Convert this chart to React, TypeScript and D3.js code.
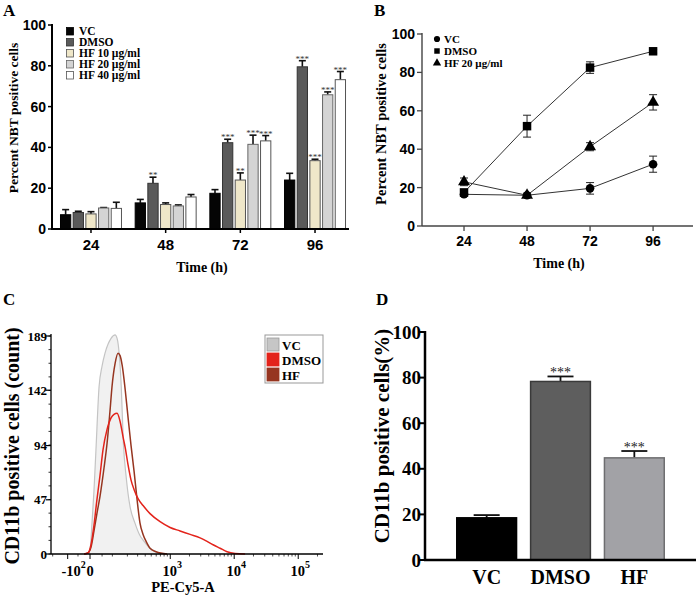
import React from 'react';
import * as d3 from 'd3';

const serif = "'Liberation Serif','Times New Roman',Times,serif";
const sans = "'Liberation Sans',Arial,Helvetica,sans-serif";

// ---------- Panel A data ----------
const timeGroups = ['24', '48', '72', '96'];
const seriesA = ['VC', 'DMSO', 'HF 10 µg/ml', 'HF 20 µg/ml', 'HF 40 µg/ml'];
const aVC = [7, 12.8, 17.5, 24];
const aVCerr = [2.5, 1.7, 1.8, 3.3];
const aDMSO = [8.1, 22.4, 42.3, 79.5];
const aDMSOerr = [0.6, 3, 1.7, 3];
const aHF10 = [7.4, 12, 24, 33.5];
const aHF10err = [1.1, 0.8, 3.5, 0.7];
const aHF20 = [10.3, 11.3, 41.5, 65.8];
const aHF20err = [0.2, 0.5, 4.5, 1.4];
const aHF40 = [10.1, 15.7, 43.2, 73.2];
const aHF40err = [3, 1.2, 2.6, 4];
const aVCsig = ['', '', '', ''];
const aDMSOsig = ['', '**', '***', '***'];
const aHF10sig = ['', '', '**', '***'];
const aHF20sig = ['', '', '***', '***'];
const aHF40sig = ['', '', '***', '***'];
const aTicks = [0, 20, 40, 60, 80, 100];

// ---------- Panel B data ----------
const bTimes = [24, 48, 72, 96];
const seriesB = ['VC', 'DMSO', 'HF 20 µg/ml'];
const bVC = [16.5, 16, 19.6, 32.2];
const bVCerr = [1, 0.8, 3, 4.2];
const bDMSO = [17.5, 52, 82.5, 91];
const bDMSOerr = [1.5, 5.7, 3, 1];
const bHF20 = [23, 16, 41.3, 64.4];
const bHF20err = [2, 0.8, 2.1, 4];
const bTicks = [0, 20, 40, 60, 80, 100];

// ---------- Panel C data (fluorescence, count) ----------
const cVcX = [-24, -8, 0, 8, 16, 24, 37, 50, 63, 78, 93, 115, 127, 140, 154, 169, 189, 206, 223, 270, 328, 369, 478, 575, 743];
const cVcY = [0, 1, 4, 27, 55, 90, 145, 163, 174, 182, 187, 190, 187, 174, 145, 96, 68, 52, 41, 27, 16, 12, 5, 2, 0];
const cHfX = [-24, -8, 4, 16, 28, 41, 59, 73, 88, 98, 115, 133, 146, 161, 183, 206, 232, 261, 294, 328, 369, 413, 478, 597, 890];
const cHfY = [0, 1, 6, 20, 35, 50, 75, 96, 125, 145, 165, 174, 172, 163, 142, 118, 94, 72, 47, 27, 17, 11, 5, 2, 0];
const cDmsoX = [-24, -8, 4, 16, 28, 41, 54, 73, 93, 109, 127, 146, 169, 183, 206, 232, 261, 305, 369, 478, 691, 994, 1425, 2045, 2933, 3771, 4680, 6018, 7744, 10330, 14800];
const cDmsoY = [0, 1, 8, 25, 47, 68, 90, 108, 118, 121, 122, 115, 100, 92, 77, 64, 56, 48, 42, 35, 28, 23, 20, 17, 14, 11, 8, 5, 2, 0.5, 0];
const cSeries = ['VC', 'DMSO', 'HF'];
const cYTicks = [0, 47, 94, 142, 189];
const cXTicks = [-100, 0, 1000, 10000, 100000];

// ---------- Panel D data ----------
const dCats = ['VC', 'DMSO', 'HF'];
const dVals = [18.5, 78.3, 44.8];
const dErr = [1.2, 2.2, 3];
const dSig = ['', '***', '***'];
const dTicks = [0, 20, 40, 60, 80, 100];

export default function App() {
  // ===== Panel A =====
  const yA = d3.scaleLinear().domain([0, 100]).range([229, 25]);
  const xA = d3.scaleBand<string>().domain(timeGroups).range([52, 354]).paddingInner(0.17).paddingOuter(0.107);
  const xAin = d3.scaleBand<string>().domain(seriesA).range([0, xA.bandwidth()]).paddingInner(0.11);
  const aVals = [aVC, aDMSO, aHF10, aHF20, aHF40];
  const aErrs = [aVCerr, aDMSOerr, aHF10err, aHF20err, aHF40err];
  const aSigs = [aVCsig, aDMSOsig, aHF10sig, aHF20sig, aHF40sig];
  const aFill = ['#050505', '#5a5a5a', '#efe7c9', '#d4d4d4', '#ffffff'];
  const aStroke = ['#000', '#333', '#555', '#666', '#555'];

  // ===== Panel B =====
  const yB = d3.scaleLinear().domain([0, 100]).range([226, 34]);
  const xB = d3.scaleLinear().domain([8, 111.2]).range([422, 693]);
  const bVals = [bVC, bDMSO, bHF20];
  const bErrs = [bVCerr, bDMSOerr, bHF20err];
  const bSymbols = [d3.symbolCircle, d3.symbolSquare, d3.symbolTriangle];
  const bSizes = [58, 72, 62];
  const lineB = d3.line<number>().x((_, i) => xB(bTimes[i])).y((d) => yB(d));

  // ===== Panel C =====
  const T = (v: number) => Math.asinh(v / 112) / Math.LN10;
  const xCl = d3.scaleLinear().domain([T(-223), T(243800)]).range([50, 323]);
  const xC = (v: number) => xCl(T(v));
  const yC = d3.scaleLinear().domain([0, 189]).range([554, 336]);
  const lineC = d3.line<[number, number]>().x((d) => xC(d[0])).y((d) => yC(d[1])).curve(d3.curveMonotoneX);
  const areaC = d3.area<[number, number]>().x((d) => xC(d[0])).y0(yC(0)).y1((d) => yC(d[1])).curve(d3.curveMonotoneX);
  const vcPts: [number, number][] = cVcX.map((x, i) => [x, cVcY[i]]);
  const hfPts: [number, number][] = cHfX.map((x, i) => [x, cHfY[i]]);
  const dmPts: [number, number][] = cDmsoX.map((x, i) => [x, cDmsoY[i]]);
  const cMinorY = d3.range(0, 189.01, 189 / 16);
  const cMinorX: number[] = [];
  [100, 1000, 10000, 100000].forEach((dec) => {
    for (let k = 2; k <= 9; k++) {
      const v = dec * k;
      if (xC(v) < 322) cMinorX.push(v);
    }
  });
  [-200, -50, 50, 100].forEach((v) => cMinorX.push(v));
  const cColors = ['#c6c6c6', '#e3231b', '#963520'];

  // ===== Panel D =====
  const yD = d3.scaleLinear().domain([0, 100]).range([560, 332]);
  const xD = d3.scaleBand<string>().domain(dCats).range([425, 696]).paddingInner(0.17).paddingOuter(0.42);
  const dFill = ['#000000', '#5e5e5e', '#a2a2a6'];
  const dStroke = ['#000', '#3a3a3a', '#6e6e70'];

  const panelLetter = (t: string, x: number, y: number) => (
    <text x={x} y={y} fontFamily={serif} fontWeight="bold" fontSize={17}>{t}</text>
  );

  return (
    <svg width={696} height={595} style={{ position: 'absolute', left: 0, top: 0, background: '#fff' }}>
      <rect x={0} y={0} width={696} height={595} fill="#fff" />
      {/* ================= A ================= */}
      {panelLetter('A', 3, 16)}
      <text transform={`translate(13,118) rotate(-90)`} textAnchor="middle" dominantBaseline="central" fontFamily={serif} fontWeight="bold" fontSize={13.5}>Percent NBT positive cells</text>
      {aTicks.map((t) => (
        <g key={'ayt' + t}>
          <line x1={48} x2={52} y1={yA(t)} y2={yA(t)} stroke="#000" strokeWidth={1.5} />
          <text x={46} y={yA(t)} textAnchor="end" dominantBaseline="central" fontFamily={sans} fontWeight="bold" fontSize={14}>{t}</text>
        </g>
      ))}
      {aVals.map((vals, si) =>
        vals.map((v, gi) => {
          const x = (xA(timeGroups[gi]) as number) + (xAin(seriesA[si]) as number);
          const w = xAin.bandwidth();
          const cx = x + w / 2;
          const top = yA(v + aErrs[si][gi]);
          return (
            <g key={`ab${si}-${gi}`}>
              <line x1={cx} x2={cx} y1={yA(v)} y2={top} stroke="#111" strokeWidth={1.6} />
              <line x1={cx - 3.5} x2={cx + 3.5} y1={top} y2={top} stroke="#111" strokeWidth={1.6} />
              <rect x={x + 0.5} y={yA(v)} width={w - 1} height={yA(0) - yA(v)} fill={aFill[si]} stroke={aStroke[si]} strokeWidth={1} />
              {aSigs[si][gi] && (
                <text x={cx} y={top + 1} textAnchor="middle" fontFamily={serif} fontSize={9} fill="#333">{aSigs[si][gi]}</text>
              )}
            </g>
          );
        })
      )}
      <line x1={52} x2={52} y1={24} y2={230} stroke="#000" strokeWidth={2} />
      <line x1={51} x2={349} y1={229} y2={229} stroke="#000" strokeWidth={2} />
      {timeGroups.map((g) => {
        const cx = (xA(g) as number) + xA.bandwidth() / 2;
        return (
          <g key={'axt' + g}>
            <line x1={cx} x2={cx} y1={229} y2={233} stroke="#000" strokeWidth={1.5} />
            <text x={cx} y={250} textAnchor="middle" fontFamily={sans} fontWeight="bold" fontSize={15}>{g}</text>
          </g>
        );
      })}
      <text x={202} y={272} textAnchor="middle" fontFamily={serif} fontWeight="bold" fontSize={14}>Time (h)</text>
      {seriesA.map((s, i) => (
        <g key={'al' + s}>
          <rect x={66.5} y={27.5 + i * 11} width={7} height={7.5} fill={aFill[i]} stroke={aStroke[i]} strokeWidth={0.8} />
          <text x={79} y={35 + i * 11} fontFamily={serif} fontWeight="bold" fontSize={11.5}>{s}</text>
        </g>
      ))}

      {/* ================= B ================= */}
      {panelLetter('B', 374, 16)}
      <text transform={`translate(381,124) rotate(-90)`} textAnchor="middle" dominantBaseline="central" fontFamily={serif} fontWeight="bold" fontSize={14.5}>Percent NBT positive cells</text>
      {bTicks.map((t) => (
        <g key={'byt' + t}>
          <line x1={417} x2={422} y1={yB(t)} y2={yB(t)} stroke="#444" strokeWidth={1.3} />
          <text x={415} y={yB(t)} textAnchor="end" dominantBaseline="central" fontFamily={sans} fontWeight="bold" fontSize={14}>{t}</text>
        </g>
      ))}
      <line x1={422} x2={422} y1={33} y2={226} stroke="#444" strokeWidth={1.4} />
      <line x1={422} x2={693} y1={226} y2={226} stroke="#444" strokeWidth={1.4} />
      {bTimes.map((t) => (
        <g key={'bxt' + t}>
          <line x1={xB(t)} x2={xB(t)} y1={226} y2={231} stroke="#444" strokeWidth={1.3} />
          <text x={xB(t)} y={246} textAnchor="middle" fontFamily={sans} fontWeight="bold" fontSize={14}>{t}</text>
        </g>
      ))}
      <text x={559} y={268} textAnchor="middle" fontFamily={serif} fontWeight="bold" fontSize={14}>Time (h)</text>
      {bVals.map((vals, si) => (
        <path key={'bl' + si} d={lineB(vals) || ''} fill="none" stroke="#333" strokeWidth={1} />
      ))}
      {bVals.map((vals, si) =>
        vals.map((v, i) => {
          const x = xB(bTimes[i]);
          const e = bErrs[si][i];
          return (
            <g key={`bp${si}-${i}`}>
              <line x1={x} x2={x} y1={yB(v - e)} y2={yB(v + e)} stroke="#222" strokeWidth={1} />
              <line x1={x - 4} x2={x + 4} y1={yB(v - e)} y2={yB(v - e)} stroke="#222" strokeWidth={1} />
              <line x1={x - 4} x2={x + 4} y1={yB(v + e)} y2={yB(v + e)} stroke="#222" strokeWidth={1} />
              <path d={d3.symbol(bSymbols[si], bSizes[si])() || ''} transform={`translate(${x},${yB(v)})`} fill="#000" />
            </g>
          );
        })
      )}
      {seriesB.map((s, i) => (
        <g key={'blg' + s}>
          <path d={d3.symbol(bSymbols[i], 30)() || ''} transform={`translate(437,${39 + i * 12})`} fill="#000" />
          <text x={444} y={42.5 + i * 12} fontFamily={serif} fontWeight="bold" fontSize={11}>{s}</text>
        </g>
      ))}

      {/* ================= C ================= */}
      {panelLetter('C', 3, 305)}
      <text transform={`translate(12,446) rotate(-90)`} textAnchor="middle" dominantBaseline="central" fontFamily={serif} fontWeight="bold" fontSize={20}>CD11b positive cells (count)</text>
      <path d={areaC(vcPts) || ''} fill="#f1f1f1" stroke="#c4c4c4" strokeWidth={1.2} />
      <path d={lineC(hfPts) || ''} fill="none" stroke={cColors[2]} strokeWidth={1.5} />
      <path d={lineC(dmPts) || ''} fill="none" stroke={cColors[1]} strokeWidth={1.5} />
      <line x1={51} x2={51} y1={334} y2={554} stroke="#000" strokeWidth={1.3} />
      <line x1={51} x2={323} y1={554} y2={554} stroke="#000" strokeWidth={1.3} />
      {cMinorY.map((t, i) => (
        <line key={'cmy' + i} x1={48.5} x2={51} y1={yC(t)} y2={yC(t)} stroke="#000" strokeWidth={0.8} />
      ))}
      {cYTicks.map((t) => (
        <g key={'cyt' + t}>
          <line x1={46} x2={51} y1={yC(t)} y2={yC(t)} stroke="#000" strokeWidth={1.2} />
          <text x={47} y={yC(t)} textAnchor="end" dominantBaseline="central" fontFamily={serif} fontWeight="bold" fontSize={13}>{t}</text>
        </g>
      ))}
      {cMinorX.map((v, i) => (
        <line key={'cmx' + i} x1={xC(v)} x2={xC(v)} y1={554} y2={556.5} stroke="#000" strokeWidth={0.7} />
      ))}
      {cXTicks.map((v) => (
        <line key={'cxt' + v} x1={xC(v)} x2={xC(v)} y1={554} y2={559} stroke="#000" strokeWidth={1} />
      ))}
      <text x={xC(-100) + 6} y={576} textAnchor="middle" fontFamily={serif} fontWeight="bold" fontSize={14.5}>
        -10<tspan dy={-8} fontSize={10}>2</tspan>
      </text>
      <text x={xC(0)} y={576} textAnchor="middle" fontFamily={serif} fontWeight="bold" fontSize={14.5}>0</text>
      {cXTicks.slice(2).map((v) => (
        <text key={'cxl' + v} x={xC(v) + 2} y={576} textAnchor="middle" fontFamily={serif} fontWeight="bold" fontSize={14.5}>
          10<tspan dy={-8} fontSize={10}>{Math.round(Math.log10(v))}</tspan>
        </text>
      ))}
      <text x={183} y={592} textAnchor="middle" fontFamily={serif} fontWeight="bold" fontSize={14.5}>PE-Cy5-A</text>
      <rect x={265} y={335} width={58} height={48} fill="#fff" stroke="#999" strokeWidth={1} />
      {cSeries.map((s, i) => (
        <g key={'clg' + s}>
          <rect x={267} y={338 + i * 15} width={12} height={13} fill={cColors[i]} stroke={i === 0 ? '#999' : cColors[i]} strokeWidth={0.8} />
          <text x={282} y={349.5 + i * 15} fontFamily={serif} fontWeight="bold" fontSize={13}>{s}</text>
        </g>
      ))}

      {/* ================= D ================= */}
      {panelLetter('D', 376, 305)}
      <text transform={`translate(382,436) rotate(-90)`} textAnchor="middle" dominantBaseline="central" fontFamily={serif} fontWeight="bold" fontSize={21}>CD11b positive cells(%)</text>
      {dTicks.map((t) => (
        <g key={'dyt' + t}>
          <line x1={419} x2={425} y1={yD(t)} y2={yD(t)} stroke="#000" strokeWidth={2} />
          <text x={421} y={yD(t)} textAnchor="end" dominantBaseline="central" fontFamily={serif} fontWeight="bold" fontSize={19}>{t}</text>
        </g>
      ))}
      {dCats.map((c, i) => {
        const x = xD(c) as number;
        const w = xD.bandwidth();
        const cx = x + w / 2;
        const top = yD(dVals[i] + dErr[i]);
        return (
          <g key={'db' + c}>
            <line x1={cx} x2={cx} y1={yD(dVals[i])} y2={top} stroke="#111" strokeWidth={1.8} />
            <line x1={cx - 13} x2={cx + 13} y1={top} y2={top} stroke="#111" strokeWidth={1.8} />
            <rect x={x + 0.75} y={yD(dVals[i])} width={w - 1.5} height={yD(0) - yD(dVals[i])} fill={dFill[i]} stroke={dStroke[i]} strokeWidth={1.5} />
            {dSig[i] && (
              <text x={cx} y={top + 1} textAnchor="middle" fontFamily={serif} fontSize={14} fill="#222">{dSig[i]}</text>
            )}
            <text x={cx} y={584} textAnchor="middle" fontFamily={serif} fontWeight="bold" fontSize={20}>{c}</text>
          </g>
        );
      })}
      <line x1={425} x2={425} y1={331} y2={561} stroke="#000" strokeWidth={2.5} />
      <line x1={424} x2={696} y1={560} y2={560} stroke="#000" strokeWidth={2.5} />
    </svg>
  );
}
